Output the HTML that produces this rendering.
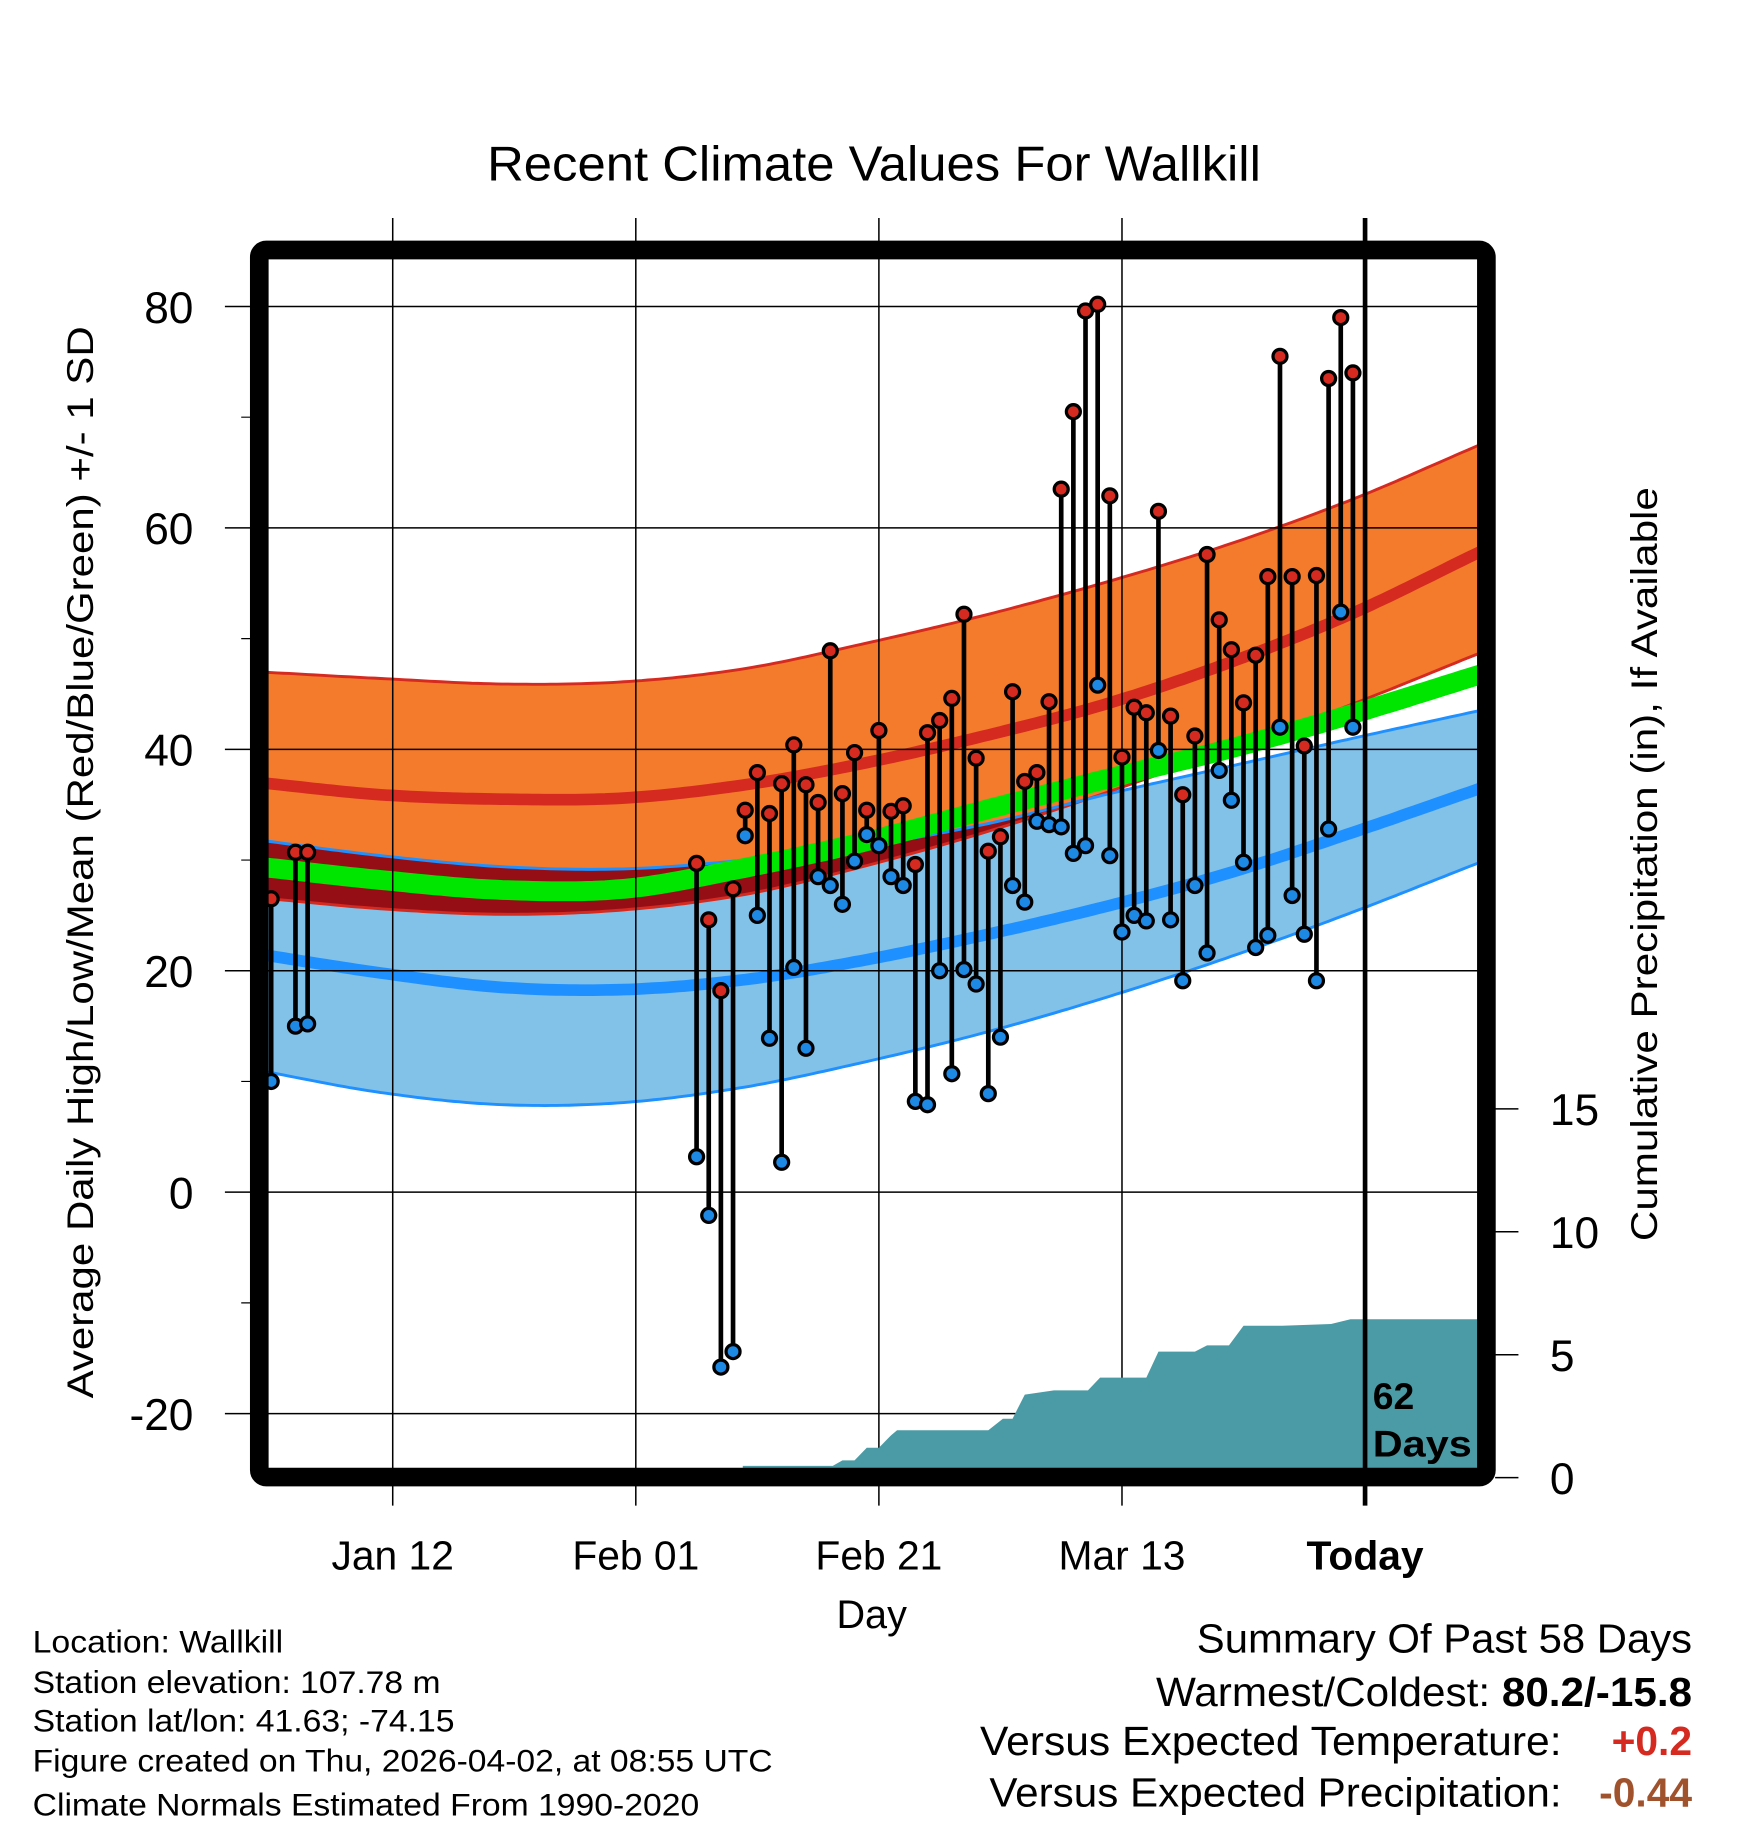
<!DOCTYPE html>
<html><head><meta charset="utf-8"><title>Recent Climate Values For Wallkill</title>
<style>html,body{margin:0;padding:0;background:#fff}svg{display:block}text{font-family:"Liberation Sans",Arial,sans-serif}</style>
</head><body>
<svg id="chart" xmlns="http://www.w3.org/2000/svg" width="1748" height="1828" viewBox="0 0 1500 1568.6">
<defs><clipPath id="plotclip"><rect x="230" y="222" width="1038" height="1038"/></clipPath></defs>
<g id="bands" clip-path="url(#plotclip)"></g>
<g id="grid"></g>
<g id="precip" clip-path="url(#plotclip)"></g>
<g id="points" clip-path="url(#plotclip)"></g>
<g id="axes"></g>
<text x="418" y="155" font-size="42" textLength="664" lengthAdjust="spacingAndGlyphs">Recent Climate Values For Wallkill</text>
<text transform="translate(80,1200) rotate(-90)" font-size="32" textLength="920" lengthAdjust="spacingAndGlyphs">Average Daily High/Low/Mean (Red/Blue/Green) +/- 1 SD</text>
<text transform="translate(1422,1065) rotate(-90)" font-size="32" textLength="647" lengthAdjust="spacingAndGlyphs">Cumulative Precipitation (in), If Available</text>
<text x="748" y="1397" font-size="34" text-anchor="middle">Day</text>
<text x="1178" y="1209" font-size="32" font-weight="bold">62</text>
<text x="1178" y="1250" font-size="32" font-weight="bold" textLength="85" lengthAdjust="spacingAndGlyphs">Days</text>
<g font-size="27">
<text x="28" y="1418" textLength="215" lengthAdjust="spacingAndGlyphs">Location: Wallkill</text>
<text x="28" y="1453" textLength="350" lengthAdjust="spacingAndGlyphs">Station elevation: 107.78 m</text>
<text x="28" y="1486" textLength="362" lengthAdjust="spacingAndGlyphs">Station lat/lon: 41.63; -74.15</text>
<text x="28" y="1520" textLength="635" lengthAdjust="spacingAndGlyphs">Figure created on Thu, 2026-04-02, at 08:55 UTC</text>
<text x="28" y="1558" textLength="572" lengthAdjust="spacingAndGlyphs">Climate Normals Estimated From 1990-2020</text>
</g>
<g font-size="35">
<text x="1027" y="1418" textLength="425" lengthAdjust="spacingAndGlyphs">Summary Of Past 58 Days</text>
<text x="992" y="1464" textLength="460" lengthAdjust="spacingAndGlyphs">Warmest/Coldest: <tspan font-weight="bold">80.2/-15.8</tspan></text>
<text x="841" y="1506" textLength="499" lengthAdjust="spacingAndGlyphs">Versus Expected Temperature:</text>
<text x="1452" y="1506" text-anchor="end" font-weight="bold" fill="#d42a20">+0.2</text>
<text x="849" y="1550" textLength="491" lengthAdjust="spacingAndGlyphs">Versus Expected Precipitation:</text>
<text x="1452" y="1550" text-anchor="end" font-weight="bold" fill="#a0522d">-0.44</text>
</g>
</svg>
<script>
// ---- data ----
const normDays = [0,10,20,30,40,50,60,70,80,90,100];
const hiUp   = [47,46.4,45.9,46.1,47.3,49.6,52.2,55.2,58.6,62.6,67.3];
const hiMean = [37,35.9,35.5,35.6,36.8,38.8,41.3,44.2,47.9,52.3,57.6];
const hiLo   = [26.6,25.6,25.1,25.5,26.9,29.5,32.6,36.2,40.1,44.1,48.5];
const loUp   = [31.8,30.4,29.4,29.2,30,31.3,33.3,36,38.5,41,43.4];
const loMean = [21.5,19.8,18.5,18.3,19.2,21,23.3,25.9,28.9,32.5,36.3];
const loLo   = [11,9,7.9,8.1,9.5,11.8,14.5,17.7,21.3,25.3,29.6];
const avgMean= [29.4,28.2,27.3,27.4,29.3,31.7,34.6,37.4,40.1,43.2,46.6];

const obsDays = [1,3,4,36,37,38,39,40,41,42,43,44,45,46,47,48,49,50,51,52,53,54,55,56,57,58,59,60,61,62,63,64,65,66,67,68,69,70,71,72,73,74,75,76,77,78,79,80,81,82,83,84,85,86,87,88,89,90];
const obsHigh = [26.5,30.7,30.7,29.7,24.6,18.2,27.4,34.5,37.9,34.2,36.9,40.4,36.8,35.2,48.9,36,39.7,34.5,41.7,34.4,34.9,29.6,41.5,42.6,44.6,52.2,39.2,30.8,32.1,45.2,37.1,37.9,44.3,63.5,70.5,79.6,80.2,62.9,39.3,43.8,43.3,61.5,43,35.9,41.2,57.6,51.7,49,44.2,48.5,55.6,75.5,55.6,40.3,55.7,73.5,79,74];
const obsLow  = [10,15,15.2,3.2,-2.1,-15.8,-14.4,32.2,25,13.9,2.7,20.3,13,28.5,27.7,26,29.9,32.3,31.3,28.5,27.7,8.2,7.9,20,10.7,20.1,18.8,8.9,14,27.7,26.2,33.5,33.2,33,30.6,31.3,45.8,30.4,23.5,25,24.5,39.9,24.6,19.1,27.7,21.6,38.1,35.4,29.8,22.1,23.2,42,26.8,23.3,19.1,32.8,52.4,42];

const precipDays = [39.8,47.2,48,49,50,51,52,52.5,55,60,61.2,62,63,65.4,68.2,69.2,72,73,74,77,78,79.8,81,84.2,88.2,89.8,100.3];
const precipVals = [0.48,0.48,0.7,0.7,1.22,1.22,1.72,1.93,1.93,1.93,2.4,2.4,3.38,3.55,3.55,4.07,4.07,4.07,5.13,5.13,5.38,5.38,6.18,6.18,6.25,6.44,6.44];

const yTicks = [80,60,40,20,0,-20];
const yMinor = [70,50,30,10,-10];
const pTicks = [0,5,10,15];
const xTickDays = [11,31,51,71,91];
const xTickLabels = ["Jan 12","Feb 01","Feb 21","Mar 13","Today"];

// ---- scales ----
const X = d => 337 + (d-11)*10.43;
const Y = v => 263 + (80-v)*9.5;
const P = p => 1268 - p*21.1;
const NS = "http://www.w3.org/2000/svg";
function el(tag, attrs, parent){const e=document.createElementNS(NS,tag);for(const k in attrs)e.setAttribute(k,attrs[k]);parent.appendChild(e);return e;}

function interp(arr, d){
  const n=arr.length;
  let i=Math.min(Math.max(Math.floor(d/10),0),n-2);
  const t=(d-normDays[i])/10;
  const p1=arr[i],p2=arr[i+1];
  const p0=i>0?arr[i-1]:2*arr[0]-arr[1];
  const p3=i+2<n?arr[i+2]:2*arr[n-1]-arr[n-2];
  const t2=t*t,t3=t2*t;
  return 0.5*((2*p1)+(-p0+p2)*t+(2*p0-5*p1+4*p2-p3)*t2+(-p0+3*p1-3*p2+p3)*t3);
}
const samples=[];for(let d=0;d<=101;d+=0.5)samples.push(d);
function linePts(arr){return samples.map(d=>X(d).toFixed(1)+","+Y(interp(arr,d)).toFixed(1));}
function bandPath(a,b){const top=linePts(a),bot=linePts(b).reverse();return "M"+top.join("L")+"L"+bot.join("L")+"Z";}

const bands=document.getElementById('bands');
let e;
e=el('path',{d:bandPath(loUp,loLo),fill:'#82c1e8'},bands);

e=el('path',{d:bandPath(hiUp,hiLo),fill:'#f47a2c'},bands);

const ovTop=samples.map(d=>Math.min(interp(hiUp,d),interp(loUp,d)));
const ovBot=samples.map((d,i)=>Math.min(Math.max(interp(hiLo,d),interp(loLo,d)),ovTop[i]));
let od="M"+samples.map((d,i)=>X(d).toFixed(1)+","+Y(ovTop[i]).toFixed(1)).join("L")+"L"+samples.map((d,i)=>[X(d),Y(ovBot[i])]).reverse().map(p=>p[0].toFixed(1)+","+p[1].toFixed(1)).join("L")+"Z";
e=el('path',{d:od,fill:'#960e15'},bands);

function line(arr,color,w,name){const l=el('polyline',{points:linePts(arr).join(" "),fill:'none',stroke:color,'stroke-width':w},bands);

}
line(hiUp,'#d42a20',2.5,'high-plus-sd-line');
line(hiLo,'#d42a20',2.5,'high-minus-sd-line');
line(loUp,'#1e90ff',2.5,'low-plus-sd-line');
line(loLo,'#1e90ff',2.5,'low-minus-sd-line');
line(hiMean,'#d42a20',10,'high-mean-line');
line(loMean,'#1e90ff',10,'low-mean-line');
line(avgMean,'#00e600',17,'mean-temp-line');

// grid
const grid=document.getElementById('grid');
yTicks.forEach(v=>{const g=el('line',{x1:193,x2:1268,y1:Y(v),y2:Y(v),stroke:'#000','stroke-width':1.3},grid);

});
yMinor.forEach(v=>{const g=el('line',{x1:207,x2:222,y1:Y(v),y2:Y(v),stroke:'#000','stroke-width':1},grid);

});
xTickDays.forEach((d,i)=>{if(i<4){const g=el('line',{x1:X(d),x2:X(d),y1:187,y2:1292,stroke:'#000','stroke-width':1.3},grid);

}});

// precip
const pg=document.getElementById('precip');
let pd="M"+X(precipDays[0])+","+P(0);
precipDays.forEach((d,i)=>{pd+="L"+X(d).toFixed(1)+","+P(precipVals[i]).toFixed(1);});
pd+="L"+X(precipDays[precipDays.length-1])+","+P(0)+"Z";
e=el('path',{d:pd,fill:'#4a9ba5'},pg);


// points
const pts=document.getElementById('points');
obsDays.forEach((d,i)=>{
  const x=X(d);
  const s=el('line',{x1:x,x2:x,y1:Y(obsHigh[i]),y2:Y(obsLow[i]),stroke:'#000','stroke-width':4},pts);
  
  
  const h=el('circle',{cx:x,cy:Y(obsHigh[i]),r:6,fill:'#d42a20',stroke:'#000','stroke-width':2.8},pts);
  
  
  const l=el('circle',{cx:x,cy:Y(obsLow[i]),r:6,fill:'#1e88e5',stroke:'#000','stroke-width':2.8},pts);
  
  
});

// axes
const ax=document.getElementById('axes');
e=el('line',{x1:X(91),x2:X(91),y1:187,y2:1292,stroke:'#000','stroke-width':4},ax);

e=el('rect',{x:222.5,y:214.5,width:1053,height:1053,rx:6,fill:'none',stroke:'#000','stroke-width':16},ax);

yTicks.forEach(v=>{const t=el('text',{x:166,y:Y(v)+14,'font-size':38,'text-anchor':'end'},ax);t.textContent=v;

});
pTicks.forEach(p=>{const k=el('line',{x1:1283,x2:1303,y1:P(p),y2:P(p),stroke:'#000','stroke-width':1.3},ax);


const t=el('text',{x:1330,y:P(p)+14,'font-size':38},ax);t.textContent=p;

});
xTickDays.forEach((d,i)=>{const t=el('text',{x:X(d),y:1347,'font-size':35,'text-anchor':'middle'},ax);t.textContent=xTickLabels[i];
if(i===4)t.setAttribute('font-weight','bold');

});
</script>
</body></html>
